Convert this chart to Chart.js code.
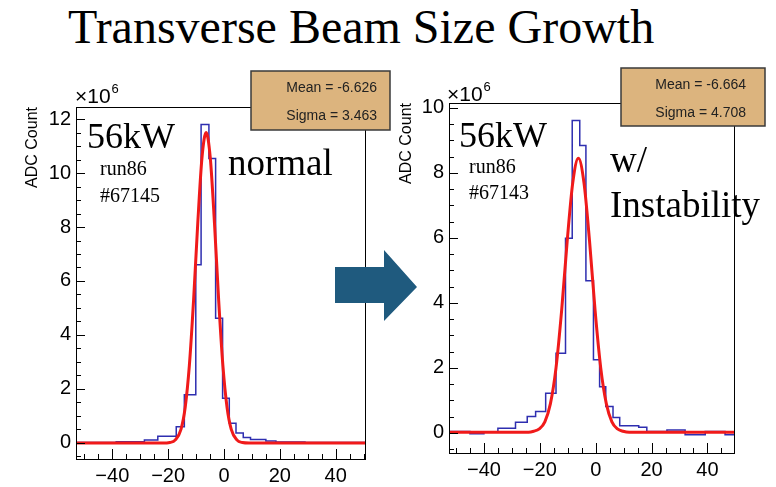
<!DOCTYPE html>
<html lang="en">
<head>
<meta charset="UTF-8">
<title>Transverse Beam Size Growth</title>
<script src="https://cdn.jsdelivr.net/npm/chart.js"></script>
<style>
  body { margin: 0; background: #fff; width: 776px; height: 487px; position: relative; overflow: hidden; }
  #title { position: absolute; left: 68px; top: 3px; font-family: "Liberation Serif", serif; font-size: 48px; line-height: 1; white-space: nowrap; color: #000; }
  canvas { position: absolute; }
  #leftChart { left: 0; top: 60px; }
  #rightChart { left: 395px; top: 60px; }
  #arrow { position: absolute; left: 0; top: 0; pointer-events: none; }
</style>
</head>
<body>
<div id="title">Transverse Beam Size Growth</div>
<canvas id="leftChart" width="395" height="427"></canvas>
<canvas id="rightChart" width="381" height="427"></canvas>
<svg id="arrow" width="776" height="487">
  <polygon points="335,267 384,267 384,250 417,287 384,321 384,303 335,303" fill="#1f5a7e"/>
</svg>
<script>
// tick labels
const xTicks = [-40, -20, 0, 20, 40];
const leftYTicks = [0, 2, 4, 6, 8, 10, 12];
const rightYTicks = [0, 2, 4, 6, 8, 10];

// normal run (#67145): histogram bin edges and ADC counts (x10^6)
const leftEdges = [-53, -38.6, -28.5, -23.7, -17.1, -14.2, -10.1, -8.2, -5.4, -3.0, -0.5, 1.9, 4.3, 6.9, 9.5, 15, 18.6, 29, 50.5];
const leftCounts = [0.01, 0.04, 0.1, 0.24, 0.6, 1.78, 6.6, 11.8, 10.54, 4.62, 1.65, 0.73, 0.36, 0.2, 0.12, 0.07, 0.03, 0.01];
// gaussian fit
const leftFitX = [-53, -22, -19.4, -17.4, -15.4, -13.9, -12.4, -10.9, -9.4, -7.9, -6.4, -4.9, -3.4, -1.9, -0.4, 1.1, 2.6, 4.6, 6.6, 9, 50.5];
const leftFitY = [-0.01, -0.01, 0.01, 0.11, 0.5, 1.31, 2.87, 5.27, 8.13, 10.55, 11.5, 10.55, 8.13, 5.27, 2.87, 1.31, 0.5, 0.11, 0.01, -0.01, -0.01];
const leftStats = ['Mean = -6.626', 'Sigma = 3.463'];

// run with instability (#67143)
const rightEdges = [-52.5, -45, -40, -35, -28.7, -24.5, -21.5, -17.9, -14.2, -10.8, -8.4, -5.7, -3.5, -0.8, 1.4, 3.6, 6.2, 8.6, 15.4, 18.3, 25.5, 32, 39.2, 46.3, 49.5];
const rightCounts = [0.04, -0.03, 0.02, 0.14, 0.33, 0.5, 0.66, 1.22, 2.45, 5.99, 9.61, 8.84, 4.68, 2.25, 1.42, 0.81, 0.47, 0.22, 0.17, 0.04, 0.09, -0.06, 0.04, -0.06];
const rightFitX = [-52.5, -24, -22.2, -20.2, -18.2, -16.2, -14.2, -12.2, -10.2, -8.2, -6.2, -4.2, -2.2, -0.2, 1.8, 3.8, 5.8, 7.8, 9.8, 12, 49.5];
const rightFitY = [0.02, 0.02, 0.05, 0.12, 0.34, 0.9, 2.0, 3.75, 5.9, 7.7, 8.45, 7.7, 5.9, 3.75, 2.0, 0.9, 0.34, 0.12, 0.05, 0.02, 0.02];
const rightStats = ['Mean = -6.664', 'Sigma = 4.708'];

function histPoints(edges, counts) {
  const pts = counts.map((c, i) => ({ x: edges[i], y: c }));
  pts.push({ x: edges[edges.length - 1], y: counts[counts.length - 1] });
  return pts;
}
function curvePoints(xs, ys) {
  return xs.map((x, i) => ({ x: x, y: ys[i] }));
}

// ROOT style frame with inward ticks
const rootFrame = {
  id: 'rootFrame',
  afterDatasetsDraw(chart, args, o) {
    const ctx = chart.ctx, a = chart.chartArea, x = chart.scales.x, y = chart.scales.y;
    ctx.save();
    ctx.strokeStyle = '#000';
    ctx.lineWidth = 1;
    ctx.strokeRect(Math.round(a.left) + 0.5, Math.round(a.top) + 0.5, Math.round(a.right - a.left), Math.round(a.bottom - a.top));
    ctx.beginPath();
    for (let v = Math.ceil(x.min / o.xMinor) * o.xMinor; v <= x.max; v += o.xMinor) {
      const px = Math.round(x.getPixelForValue(v)) + 0.5;
      const major = Math.abs(v / o.xMajor - Math.round(v / o.xMajor)) < 1e-6;
      ctx.moveTo(px, a.bottom);
      ctx.lineTo(px, a.bottom - (major ? 10 : 5));
    }
    for (let v = Math.ceil(y.min / o.yMinor) * o.yMinor; v <= y.max; v += o.yMinor) {
      const py = Math.round(y.getPixelForValue(v)) + 0.5;
      const major = Math.abs(v / o.yMajor - Math.round(v / o.yMajor)) < 1e-6;
      ctx.moveTo(a.left, py);
      ctx.lineTo(a.left + (major ? 9 : 5), py);
    }
    ctx.stroke();
    ctx.restore();
  }
};

// stat box, exponent and slide annotations
const notes = {
  id: 'notes',
  afterDraw(chart, args, o) {
    const ctx = chart.ctx, b = o.box;
    ctx.save();
    ctx.fillStyle = '#dcb47e';
    ctx.fillRect(b.x, b.y, b.w, b.h);
    ctx.strokeStyle = '#3a3a3a';
    ctx.lineWidth = 1.5;
    ctx.strokeRect(b.x, b.y, b.w, b.h);
    ctx.fillStyle = '#222';
    ctx.font = '14px "Liberation Sans"';
    ctx.textAlign = 'right';
    ctx.fillText(b.lines[0], b.tx, b.y1);
    ctx.fillText(b.lines[1], b.tx, b.y2);

    ctx.textAlign = 'left';
    ctx.fillStyle = '#000';
    ctx.font = '21px "Liberation Sans"';
    ctx.fillText('\u00d710', o.exp.x, o.exp.y);
    const w = ctx.measureText('\u00d710').width;
    ctx.font = '13px "Liberation Sans"';
    ctx.fillText('6', o.exp.x + w + 1, o.exp.y - 10);

    o.texts.forEach(t => {
      ctx.font = t.size + 'px "Liberation Serif"';
      ctx.fillText(t.text, t.x, t.y);
    });
    ctx.restore();
  }
};

function makeChart(id, p) {
  return new Chart(document.getElementById(id), {
    type: 'line',
    data: {
      datasets: [
        { label: 'fit', data: curvePoints(p.fitX, p.fitY), borderColor: '#f01a1a', borderWidth: 3,
          pointRadius: 0, cubicInterpolationMode: 'monotone', fill: false },
        { label: 'hist', data: histPoints(p.edges, p.counts), borderColor: '#2e2eb0', borderWidth: 1.5,
          pointRadius: 0, stepped: true, fill: false }
      ]
    },
    options: {
      responsive: false,
      animation: false,
      events: [],
      layout: { padding: { left: 0, right: p.padRight, top: p.padTop, bottom: 0 } },
      plugins: {
        legend: { display: false },
        tooltip: { enabled: false },
        rootFrame: { xMinor: 5, xMajor: 20, yMinor: p.yMinor, yMajor: 2 },
        notes: { box: p.box, exp: p.exp, texts: p.texts }
      },
      scales: {
        x: {
          type: 'linear', min: p.xMin, max: p.xMax,
          grid: { display: false, drawTicks: false },
          border: { display: false },
          afterBuildTicks: s => { s.ticks = xTicks.map(v => ({ value: v })); },
          afterFit: s => { s.height = p.xAxisH; },
          ticks: { padding: 5, color: '#000', maxRotation: 0, autoSkip: false,
                   font: { family: 'Liberation Sans', size: 20 },
                   callback: v => String(v).replace('-', '\u2212') }
        },
        y: {
          type: 'linear', min: p.yMin, max: p.yMax,
          grid: { display: false, drawTicks: false },
          border: { display: false },
          afterBuildTicks: s => { s.ticks = p.yTicks.map(v => ({ value: v })); },
          afterFit: s => { s.width = p.yAxisW; },
          ticks: { padding: 5, color: '#000', font: { family: 'Liberation Sans', size: 20 } },
          title: { display: true, text: 'ADC Count', align: 'end', color: '#000',
                   font: { family: 'Liberation Sans', size: 16 }, padding: { top: p.titlePad, bottom: 0 } }
        }
      }
    },
    plugins: [rootFrame, notes]
  });
}

makeChart('leftChart', {
  edges: leftEdges, counts: leftCounts, fitX: leftFitX, fitY: leftFitY, yTicks: leftYTicks,
  xMin: -53, xMax: 50.5, yMin: -0.6, yMax: 12.45, yMinor: 0.5,
  padRight: 30, padTop: 47, xAxisH: 28, yAxisW: 76, titlePad: 23,
  box: { x: 251, y: 11, w: 139, h: 59, tx: 377, y1: 31.7, y2: 60, lines: leftStats },
  exp: { x: 75, y: 43 },
  texts: [
    { text: '56kW', size: 36, x: 87, y: 88 },
    { text: 'run86', size: 20, x: 100, y: 115 },
    { text: '#67145', size: 20, x: 100, y: 141.7 },
    { text: 'normal', size: 37, x: 228, y: 115 }
  ]
});

makeChart('rightChart', {
  edges: rightEdges, counts: rightCounts, fitX: rightFitX, fitY: rightFitY, yTicks: rightYTicks,
  xMin: -52.5, xMax: 49.5, yMin: -0.62, yMax: 10.15, yMinor: 0.5,
  padRight: 42, padTop: 43, xAxisH: 34, yAxisW: 54, titlePad: 2,
  box: { x: 226, y: 8, w: 144, h: 58, tx: 351, y1: 29, y2: 56.7, lines: rightStats },
  exp: { x: 52, y: 41 },
  texts: [
    { text: '56kW', size: 36, x: 64, y: 87 },
    { text: 'run86', size: 20, x: 74, y: 113 },
    { text: '#67143', size: 20, x: 74, y: 139 },
    { text: 'w/', size: 37, x: 215, y: 111.7 },
    { text: 'Instability', size: 37, x: 215, y: 156.7 }
  ]
});
</script>
</body>
</html>
